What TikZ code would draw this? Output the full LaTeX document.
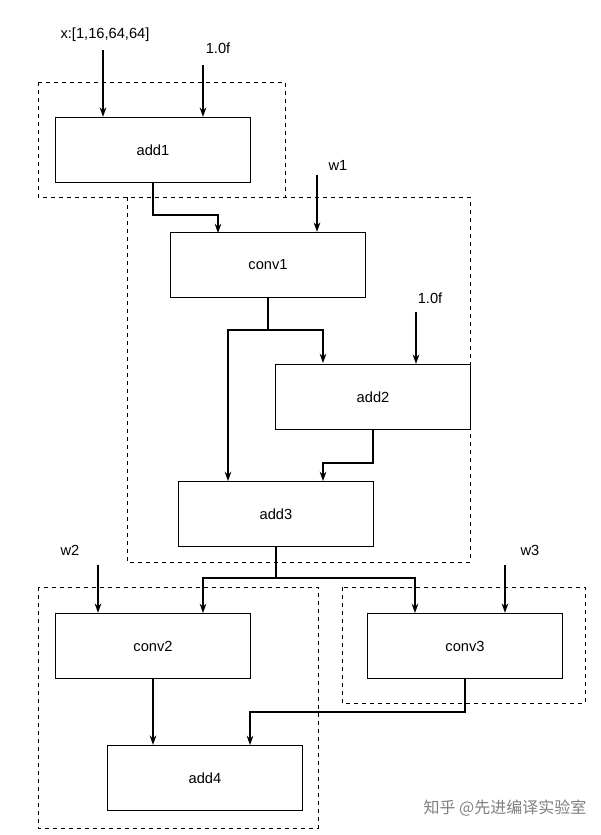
\documentclass[tikz,border=0pt]{standalone}
\usepackage{fontspec}
\setmainfont{Liberation Sans}
\newfontfamily\cjk{Noto Sans CJK SC}
\usetikzlibrary{arrows.meta}
\begin{document}
\begin{tikzpicture}[x=0.75pt,y=-0.75pt,
  box/.style={draw,thick,minimum width=146pt,minimum height=49pt,inner sep=0pt,font=\fontsize{11}{13}\selectfont},
  grp/.style={draw,dashed},
  lbl/.style={font=\fontsize{11}{13}\selectfont,inner sep=1pt},
  arr/.style={-{Stealth[length=7pt,width=5pt]},thick}]
\useasboundingbox (0,0) rectangle (600,835);
\fill[white] (0,0) rectangle (600,835);
\draw[grp] (38,82) rectangle (285,197);
\draw[grp] (127,197) rectangle (470,562);
\draw[grp] (38,587) rectangle (318,828);
\draw[grp] (342,587) rectangle (585,703);
\node[box] (add1) at (153,150) {add1};
\node[box] (conv1) at (268,265) {conv1};
\node[box] (add2) at (373,397) {add2};
\node[box] (add3) at (276,514) {add3};
\node[box] (conv2) at (153,646) {conv2};
\node[box] (conv3) at (465,646) {conv3};
\node[box] (add4) at (205,778) {add4};
\node[lbl] (x) at (105,35) {x:[1,16,64,64]};
\node[lbl] (f1) at (218,48) {1.0f};
\node[lbl] (w1) at (338,165) {w1};
\node[lbl] (f2) at (430,298) {1.0f};
\node[lbl] (w2) at (70,550) {w2};
\node[lbl] (w3) at (530,550) {w3};
\coordinate (xs) at (103,50); \coordinate (f1s) at (203,65);
\coordinate (w1s) at (317,175); \coordinate (f2s) at (416,312);
\coordinate (w2s) at (98,565); \coordinate (w3s) at (505,565);
\draw[arr] (xs) -- (xs |- add1.north);
\draw[arr] (f1s) -- (f1s |- add1.north);
\draw[arr] (w1s) -- (w1s |- conv1.north);
\draw[arr] (f2s) -- (f2s |- add2.north);
\draw[arr] (w2s) -- (w2s |- conv2.north);
\draw[arr] (w3s) -- (w3s |- conv3.north);
\draw[arr] (add1.south) -- (153,215) -- (218,215) -- (218,233);
\draw[arr] (conv1.south) -- (268,330) -- (228,330) -- (228,481);
\draw[arr] (conv1.south) -- (268,330) -- (323,330) -- (323,363);
\draw[arr] (add2.south) -- (373,463) -- (323,463) -- (323,481);
\draw[arr] (add3.south) -- (276,578) -- (203,578) -- (203,613);
\draw[arr] (add3.south) -- (276,578) -- (415,578) -- (415,613);
\draw[arr] (conv2.south) -- (add4.north -| conv2.south);
\draw[arr] (conv3.south) -- (465,712) -- (250,712) -- (250,745);
\node[font=\cjk\fontsize{12}{14}\selectfont,text=gray] (wm) at (505,808) {知乎 @先进编译实验室};
\end{tikzpicture}
\end{document}
